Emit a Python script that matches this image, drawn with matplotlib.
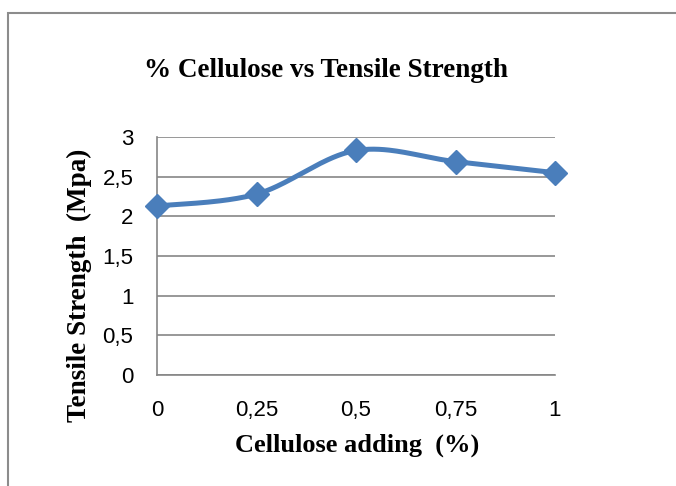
import numpy as np
import matplotlib
matplotlib.use("Agg")
import matplotlib.pyplot as plt
from matplotlib.patches import Rectangle

cellulose = [0, 0.25, 0.5, 0.75, 1]
strength = [2.13, 2.28, 2.83, 2.69, 2.55]
xtick_labels = ["0", "0,25", "0,5", "0,75", "1"]
yticks = [0, 0.5, 1, 1.5, 2, 2.5, 3]
ytick_labels = ["0", "0,5", "1", "1,5", "2", "2,5", "3"]

def catmull_rom(x, y, n=40):
    x = np.asarray(x, float); y = np.asarray(y, float)
    px = np.concatenate([[x[0]], x, [x[-1]]])
    py = np.concatenate([[y[0]], y, [y[-1]]])
    xs, ys = [], []
    t = np.linspace(0, 1, n)
    for i in range(1, len(px) - 2):
        p0, p1, p2, p3 = [np.array([px[j], py[j]]) for j in (i - 1, i, i + 1, i + 2)]
        c1 = p1 + (p2 - p0) / 6
        c2 = p2 - (p3 - p1) / 6
        pts = ((1 - t) ** 3)[:, None] * p1 + (3 * (1 - t) ** 2 * t)[:, None] * c1 \
            + (3 * (1 - t) * t ** 2)[:, None] * c2 + (t ** 3)[:, None] * p2
        xs.extend(pts[:, 0]); ys.extend(pts[:, 1])
    return np.array(xs), np.array(ys)

W, H = 676, 486
fig = plt.figure(figsize=(W / 100, H / 100), dpi=100)
fig.patches.append(Rectangle((8 / W, -0.1), 1.2, 1 - 13 / H + 0.1, transform=fig.transFigure,
                             fill=False, edgecolor="#8c8c8c", linewidth=1.5))

ax = fig.add_axes([157 / W, 1 - 375 / H, (555 - 157) / W, (375 - 137) / H])
sx, sy = catmull_rom(cellulose, strength)
blue = "#4a7ebb"
ax.plot(sx, sy, color=blue, linewidth=3.6, solid_capstyle="round", zorder=3)
ax.plot(cellulose, strength, linestyle="none", marker="D", markersize=12,
        color=blue, zorder=4, clip_on=False)

ax.set_xlim(0, 1)
ax.set_ylim(0, 3)
ax.set_yticks(yticks)
ax.set_yticklabels(ytick_labels)
ax.set_xticks(cellulose)
ax.set_xticklabels(xtick_labels)
ax.tick_params(length=0, labelsize=16)
ax.tick_params(axis="y", pad=17)
ax.tick_params(axis="x", pad=18)
for lab in ax.get_xticklabels() + ax.get_yticklabels():
    lab.set_family("Liberation Sans")
ax.grid(axis="y", color="#868686", linewidth=1.2)
ax.set_axisbelow(True)
for s in ["top", "right"]:
    ax.spines[s].set_visible(False)
for s in ["left", "bottom"]:
    ax.spines[s].set_color("#868686")
    ax.spines[s].set_linewidth(1.2)

fig.text(326 / W, 1 - 77 / H, "% Cellulose vs Tensile Strength", ha="center", va="baseline",
         fontsize=19.5, fontweight="bold", family="Liberation Serif")
fig.text(357 / W, 1 - 452 / H, "Cellulose adding  (%)", ha="center", va="baseline",
         fontsize=19, fontweight="bold", family="Liberation Serif")
fig.text(79 / W, 1 - 285 / H, "Tensile Strength  (Mpa)", ha="center", va="center",
         rotation=90, fontsize=19.5, fontweight="bold", family="Liberation Serif")

fig.savefig("out.png", dpi=100)
